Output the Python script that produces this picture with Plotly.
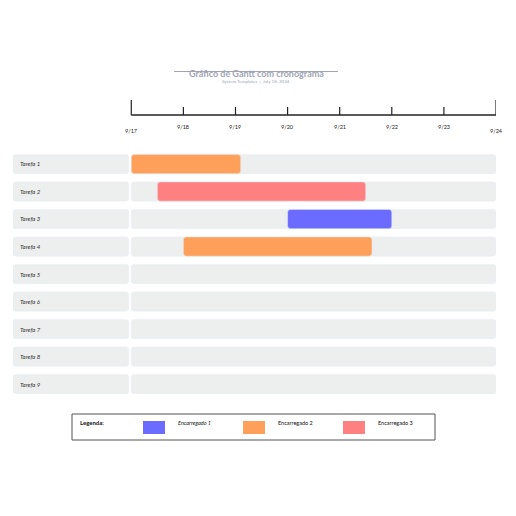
import plotly.graph_objects as go

tarefas = ["Tarefa 1", "Tarefa 2", "Tarefa 3", "Tarefa 4", "Tarefa 5",
           "Tarefa 6", "Tarefa 7", "Tarefa 8", "Tarefa 9"]
inicio = [0.0, 0.5, 3.0, 1.0]
fim = [2.1, 4.5, 5.0, 4.62]
encarregado = [2, 3, 1, 2]
datas = ["9/17", "9/18", "9/19", "9/20", "9/21", "9/22", "9/23", "9/24"]
legendas = ["Encarregado 1", "Encarregado 2", "Encarregado 3"]

cores = {1: "#6B6BFF", 2: "#FFA05A", 3: "#FF8080"}
X0, X1 = -2.27, 7.0
W = 516
D = 8  # margem da pagina


def fx(p):
    return (p - D) / W


def fy(p):
    return 1 - (p - D) / W


fig = go.Figure()
# fundo das linhas
fig.add_trace(go.Bar(y=tarefas, x=[7] * 9, base=0, orientation="h",
                     marker_color="#EDEEEE", width=0.7, hoverinfo="skip"))
fig.add_trace(go.Bar(y=tarefas, x=[2.22] * 9, base=X0, orientation="h",
                     marker_color="#EDEEEE", width=0.7, hoverinfo="skip"))
# tarefas
fig.add_trace(go.Bar(y=tarefas[:4], x=[f - i for i, f in zip(inicio, fim)],
                     base=inicio, orientation="h", width=0.7,
                     marker_color=[cores[e] for e in encarregado]))
for t in tarefas:
    fig.add_annotation(x=X0 + 0.1, y=t, text="<i>" + t + "</i>", showarrow=False,
                       xanchor="left", font=dict(size=6, color="#333"))

# linha do tempo
dias = list(range(len(datas)))
fig.add_trace(go.Scatter(x=[0, 7], y=[0, 0], mode="lines", yaxis="y2",
                         line=dict(color="#222", width=1.5), hoverinfo="skip"))
for d, lab in zip(dias, datas):
    ponta = d in (0, 7)
    fig.add_trace(go.Scatter(x=[d, d], y=[0, 0.75 if ponta else 0.4], mode="lines",
                             yaxis="y2", line=dict(color="#222", width=1.2),
                             hoverinfo="skip"))
    fig.add_annotation(x=d, y=-0.8 if ponta else -0.6, yref="y2", text=lab,
                       showarrow=False, font=dict(size=5.5, color="#222"))

# titulo
fig.add_annotation(x=fx(256), y=fy(66), xref="paper", yref="paper",
                   text="<b>Gráfico de Gantt com cronograma</b>", showarrow=False,
                   font=dict(size=9, color="#A0A4B4"))
fig.add_shape(type="line", xref="paper", yref="paper", x0=fx(174), x1=fx(338),
              y0=fy(71.5), y1=fy(71.5), line=dict(color="#A0A4B4", width=1))
fig.add_annotation(x=fx(256), y=fy(77), xref="paper", yref="paper",
                   text="System Templates  |  July 18, 2024", showarrow=False,
                   font=dict(size=4.5, color="#A0A4B4"))

# legenda
fig.add_shape(type="rect", xref="paper", yref="paper", x0=fx(72), x1=fx(435),
              y0=fy(440), y1=fy(414), line=dict(color="#555", width=1),
              fillcolor="white")
fig.add_annotation(x=fx(78), y=fy(427.5), xref="paper", yref="paper",
                   text="<b>Legenda:</b>", showarrow=False, xanchor="left",
                   font=dict(size=6, color="#111"))
for k, (lab, x0) in enumerate(zip(legendas, [143, 243, 343])):
    fig.add_shape(type="rect", xref="paper", yref="paper", x0=fx(x0),
                  x1=fx(x0 + 22), y0=fy(434), y1=fy(421),
                  fillcolor=cores[k + 1], line=dict(width=0))
    fig.add_annotation(x=fx(x0 + 33), y=fy(427.5), xref="paper", yref="paper",
                       text="<i>" + lab + "</i>" if k == 0 else lab,
                       showarrow=False, xanchor="left",
                       font=dict(size=5.5, color="#111"))

fig.update_layout(
    width=W, height=W, margin=dict(l=0, r=0, t=0, b=0),
    plot_bgcolor="white", paper_bgcolor="white", showlegend=False,
    barmode="overlay", barcornerradius=3,
    font=dict(family="Lato"),
    xaxis=dict(range=[X0, X1], domain=[fx(13), fx(496)], visible=False),
    yaxis=dict(range=[8.5, -0.5], domain=[fy(397.75), fy(150.25)],
               visible=False),
    yaxis2=dict(range=[-1, 1], domain=[fy(135), fy(95)], visible=False,
                anchor="x"),
)
fig.write_html("out.html")
